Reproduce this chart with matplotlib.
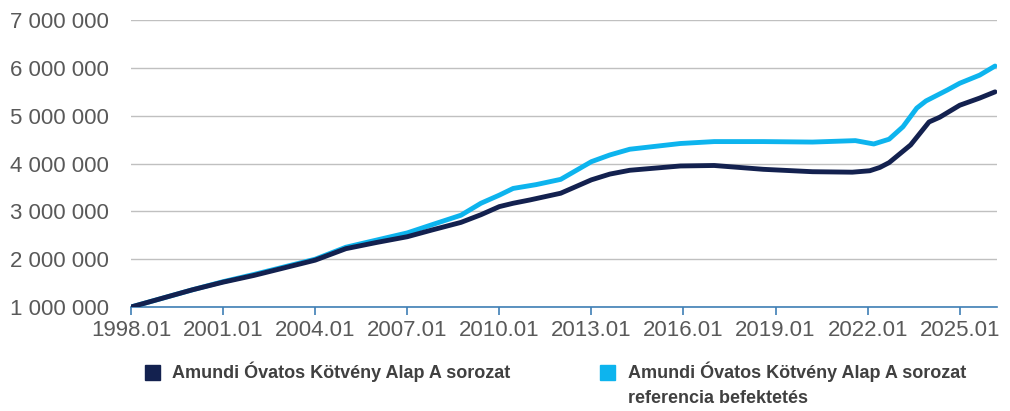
import matplotlib.pyplot as plt
from matplotlib.patches import Rectangle
from matplotlib.ticker import FuncFormatter

# Data (millions HUF)
fund_x = [1998.0, 1999.0, 2000.0, 2001.0, 2002.0, 2003.0, 2004.0, 2005.0, 2006.0,
          2007.0, 2007.8, 2008.75, 2009.4, 2010.0, 2010.45, 2011.0, 2012.0, 2013.0,
          2013.6, 2014.25, 2015.9, 2017.0, 2018.6, 2020.2, 2021.5, 2022.07, 2022.4,
          2022.7, 2023.4, 2024.0, 2024.35, 2025.0, 2025.65, 2026.15]
fund = [1.00, 1.18, 1.36, 1.52, 1.66, 1.82, 1.98, 2.22, 2.35,
        2.47, 2.61, 2.77, 2.93, 3.10, 3.17, 3.24, 3.38, 3.66,
        3.78, 3.86, 3.95, 3.96, 3.88, 3.83, 3.82, 3.85, 3.92,
        4.02, 4.39, 4.87, 4.97, 5.22, 5.37, 5.50]

bench_x = [1998.0, 1999.0, 2000.0, 2001.0, 2002.0, 2003.0, 2004.0, 2005.0, 2006.0,
           2007.0, 2007.8, 2008.75, 2009.4, 2010.0, 2010.45, 2011.2, 2012.0, 2013.0,
           2013.6, 2014.25, 2015.9, 2017.0, 2018.6, 2020.2, 2021.6, 2022.2, 2022.7,
           2023.15, 2023.6, 2023.9, 2024.6, 2025.0, 2025.65, 2026.15]
benchmark = [1.00, 1.18, 1.36, 1.53, 1.68, 1.84, 2.00, 2.25, 2.40,
             2.55, 2.72, 2.92, 3.17, 3.34, 3.48, 3.56, 3.67, 4.04,
             4.18, 4.30, 4.42, 4.46, 4.46, 4.45, 4.48, 4.41, 4.51,
             4.77, 5.16, 5.31, 5.54, 5.68, 5.85, 6.04]

fund_label = 'Amundi Óvatos Kötvény Alap A sorozat'
bench_label = 'Amundi Óvatos Kötvény Alap A sorozat\nreferencia befektetés'
tick_years = list(range(1998, 2026, 3))

fund_color = '#13214f'
bench_color = '#0db4ee'

plt.rcParams['font.family'] = ['Liberation Sans', 'DejaVu Sans']

fig = plt.figure(figsize=(10.1, 4.11), dpi=100)
ax = fig.add_axes([0.1297, 0.253, 0.857, 0.698])

ax.plot(bench_x, [v * 1e6 for v in benchmark], color=bench_color, lw=3.5,
        solid_capstyle='round', solid_joinstyle='round', zorder=3)
ax.plot(fund_x, [v * 1e6 for v in fund], color=fund_color, lw=3.5,
        solid_capstyle='round', solid_joinstyle='round', zorder=4)

ax.set_xlim(1998.0, 2026.2)
ax.set_ylim(1e6, 7e6)
ax.set_yticks([i * 1e6 for i in range(1, 8)])
ax.yaxis.set_major_formatter(FuncFormatter(lambda v, p: f'{int(v):,}'.replace(',', ' ')))
ax.set_xticks(tick_years)
ax.set_xticklabels([f'{y}.01' for y in tick_years])

ax.grid(axis='y', color='#c0c0c0', lw=1)
ax.set_axisbelow(True)
for s in ['left', 'right', 'top']:
    ax.spines[s].set_visible(False)
ax.spines['bottom'].set_color('#3f7fb5')
ax.spines['bottom'].set_linewidth(1.2)
ax.tick_params(axis='y', length=0, pad=16, labelsize=16, labelcolor='#595959')
ax.tick_params(axis='x', length=6, width=1.2, color='#3f7fb5', pad=3,
               labelsize=16, labelcolor='#595959')

# legend, drawn by hand so the square sits on the first line
legfont = dict(fontsize=13, fontweight='bold', color='#404040', va='top',
               linespacing=1.6)
for color, label, sx, tx in [(fund_color, fund_label, 0.1436, 0.170),
                             (bench_color, bench_label, 0.594, 0.622)]:
    fig.add_artist(Rectangle((sx, 0.0754), 0.0149, 0.0365, color=color,
                             transform=fig.transFigure))
    fig.text(tx, 0.121, label, **legfont)

fig.savefig('out.png', dpi=100)
